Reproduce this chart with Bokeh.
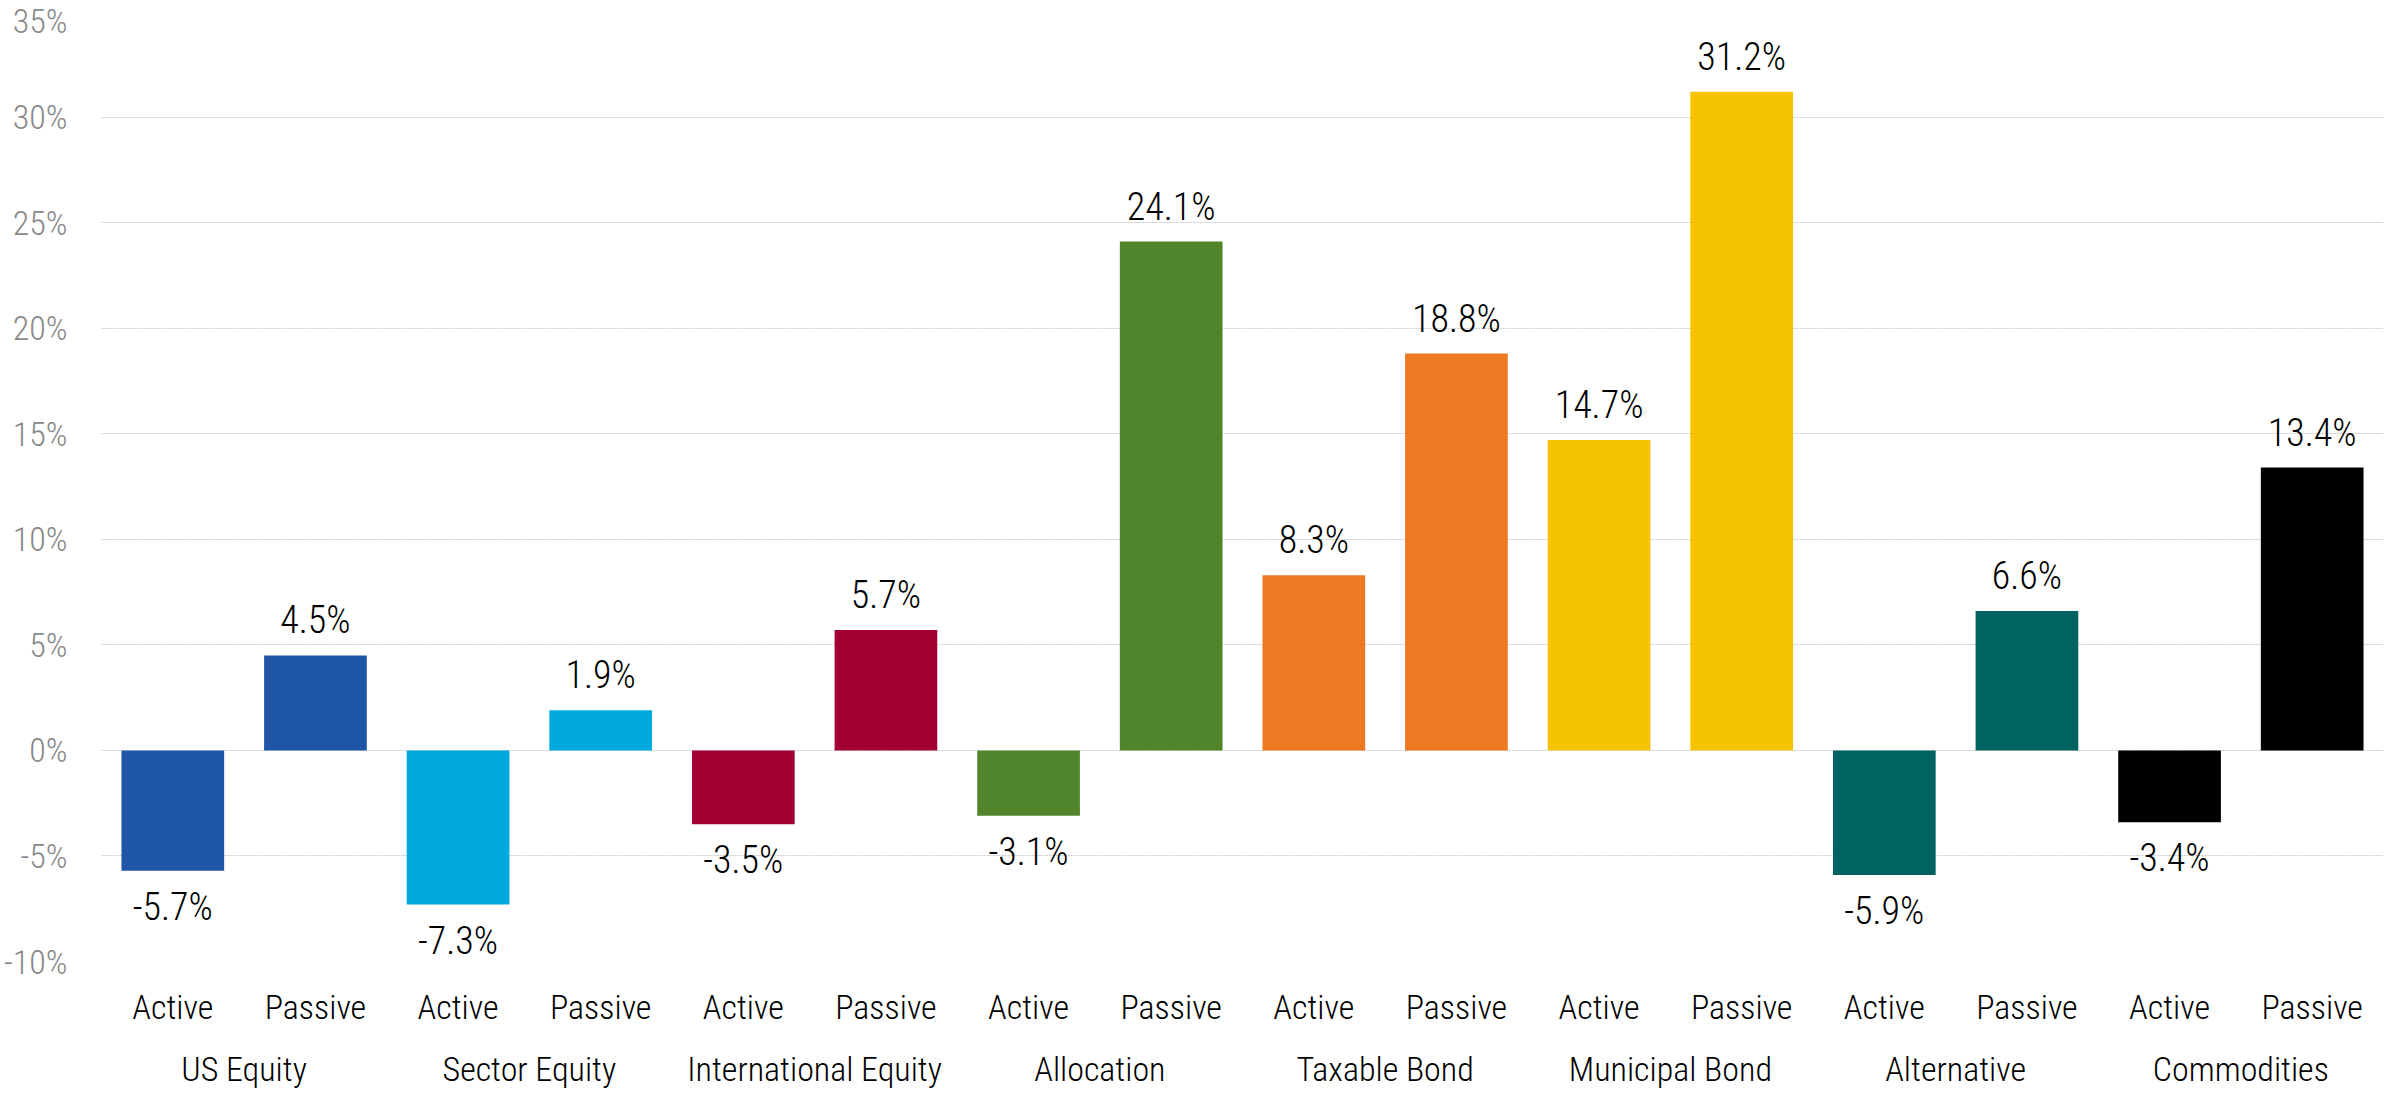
from bokeh.plotting import figure
from bokeh.models import (FactorRange, ColumnDataSource, FixedTicker, PrintfTickFormatter,
                          Range1d, CategoricalAxis)
from bokeh.core.properties import value
from bokeh.embed import file_html
from bokeh.resources import INLINE

# ---- data ----
groups = ["US Equity", "Sector Equity", "International Equity", "Allocation",
          "Taxable Bond", "Municipal Bond", "Alternative", "Commodities"]
styles = ["Active", "Passive"]
active = [-5.7, -7.3, -3.5, -3.1, 8.3, 14.7, -5.9, -3.4]
passive = [4.5, 1.9, 5.7, 24.1, 18.8, 31.2, 6.6, 13.4]
group_colors = ["#1F55A5", "#00A8E0", "#A50034", "#51852B",
                "#EF7822", "#F5C300", "#006361", "#000000"]
y_ticks = [-10, -5, 0, 5, 10, 15, 20, 25, 30, 35]

FONT = "'Roboto Condensed Light', 'Roboto Condensed', Roboto, sans-serif"

factors, vals, colors = [], [], []
for g, a, pv, c in zip(groups, active, passive, group_colors):
    for s, v in zip(styles, [a, pv]):
        factors.append((g, s))
        vals.append(v)
        colors.append(c)

labels = [f"{v:.1f}%" for v in vals]
yoff = [-35 if v >= 0 else 36 for v in vals]

src = ColumnDataSource(dict(x=factors, y=vals, color=colors, label=labels, yoff=yoff))

p = figure(
    x_range=FactorRange(*factors, factor_padding=0, group_padding=0, range_padding=0),
    y_range=Range1d(-10, 35),
    width=2383, height=1097,
    output_backend="svg", toolbar_location=None,
    min_border_left=100, min_border_right=0, min_border_top=11, min_border_bottom=136,
)
p.outline_line_color = None
p.background_fill_color = "white"

p.vbar(x="x", top="y", width=0.72, source=src, fill_color="color", line_color=None)
p.text(x="x", y="y", text="label", source=src, y_offset="yoff",
       text_align=value("center"), text_baseline=value("middle"),
       text_font=value(FONT), text_font_size=value("38px"), text_color="#000000")

# y axis
p.yaxis.ticker = FixedTicker(ticks=y_ticks)
p.yaxis.formatter = PrintfTickFormatter(format="%d%%")
p.yaxis.axis_line_color = None
p.yaxis.major_tick_line_color = None
p.yaxis.minor_tick_line_color = None
p.yaxis.major_tick_out = 0
p.yaxis.major_tick_in = 0
p.yaxis.minor_tick_out = 0
p.yaxis.major_label_text_font = FONT
p.yaxis.major_label_text_font_size = "34px"
p.yaxis.major_label_text_color = "#888888"
p.yaxis.major_label_standoff = 34

p.ygrid.ticker = FixedTicker(ticks=y_ticks)
p.ygrid.grid_line_color = "#cccccc"
p.ygrid.grid_line_dash = "2 1"
p.xgrid.grid_line_color = None

# x axis: inner level (Active / Passive)
ax1 = p.xaxis[0]
ax1.axis_line_color = None
ax1.major_tick_line_color = None
ax1.minor_tick_line_color = None
ax1.major_tick_out = 0
ax1.major_tick_in = 0
ax1.separator_line_color = None
ax1.major_label_text_font = FONT
ax1.major_label_text_font_size = "34px"
ax1.major_label_text_color = "#000000"
ax1.major_label_standoff = 25
ax1.group_text_color = None

# outer level (group names) on a second axis below
p.extra_x_ranges = {"groups": FactorRange(*groups, factor_padding=0, range_padding=0)}
ax2 = CategoricalAxis(x_range_name="groups")
ax2.axis_line_color = None
ax2.major_tick_line_color = None
ax2.minor_tick_line_color = None
ax2.major_tick_out = 0
ax2.major_tick_in = 0
ax2.separator_line_color = None
ax2.major_label_text_font = FONT
ax2.major_label_text_font_size = "34px"
ax2.major_label_text_color = "#000000"
ax2.major_label_standoff = 19
p.add_layout(ax2, "below")

open("out.html", "w").write(file_html(p, INLINE))
